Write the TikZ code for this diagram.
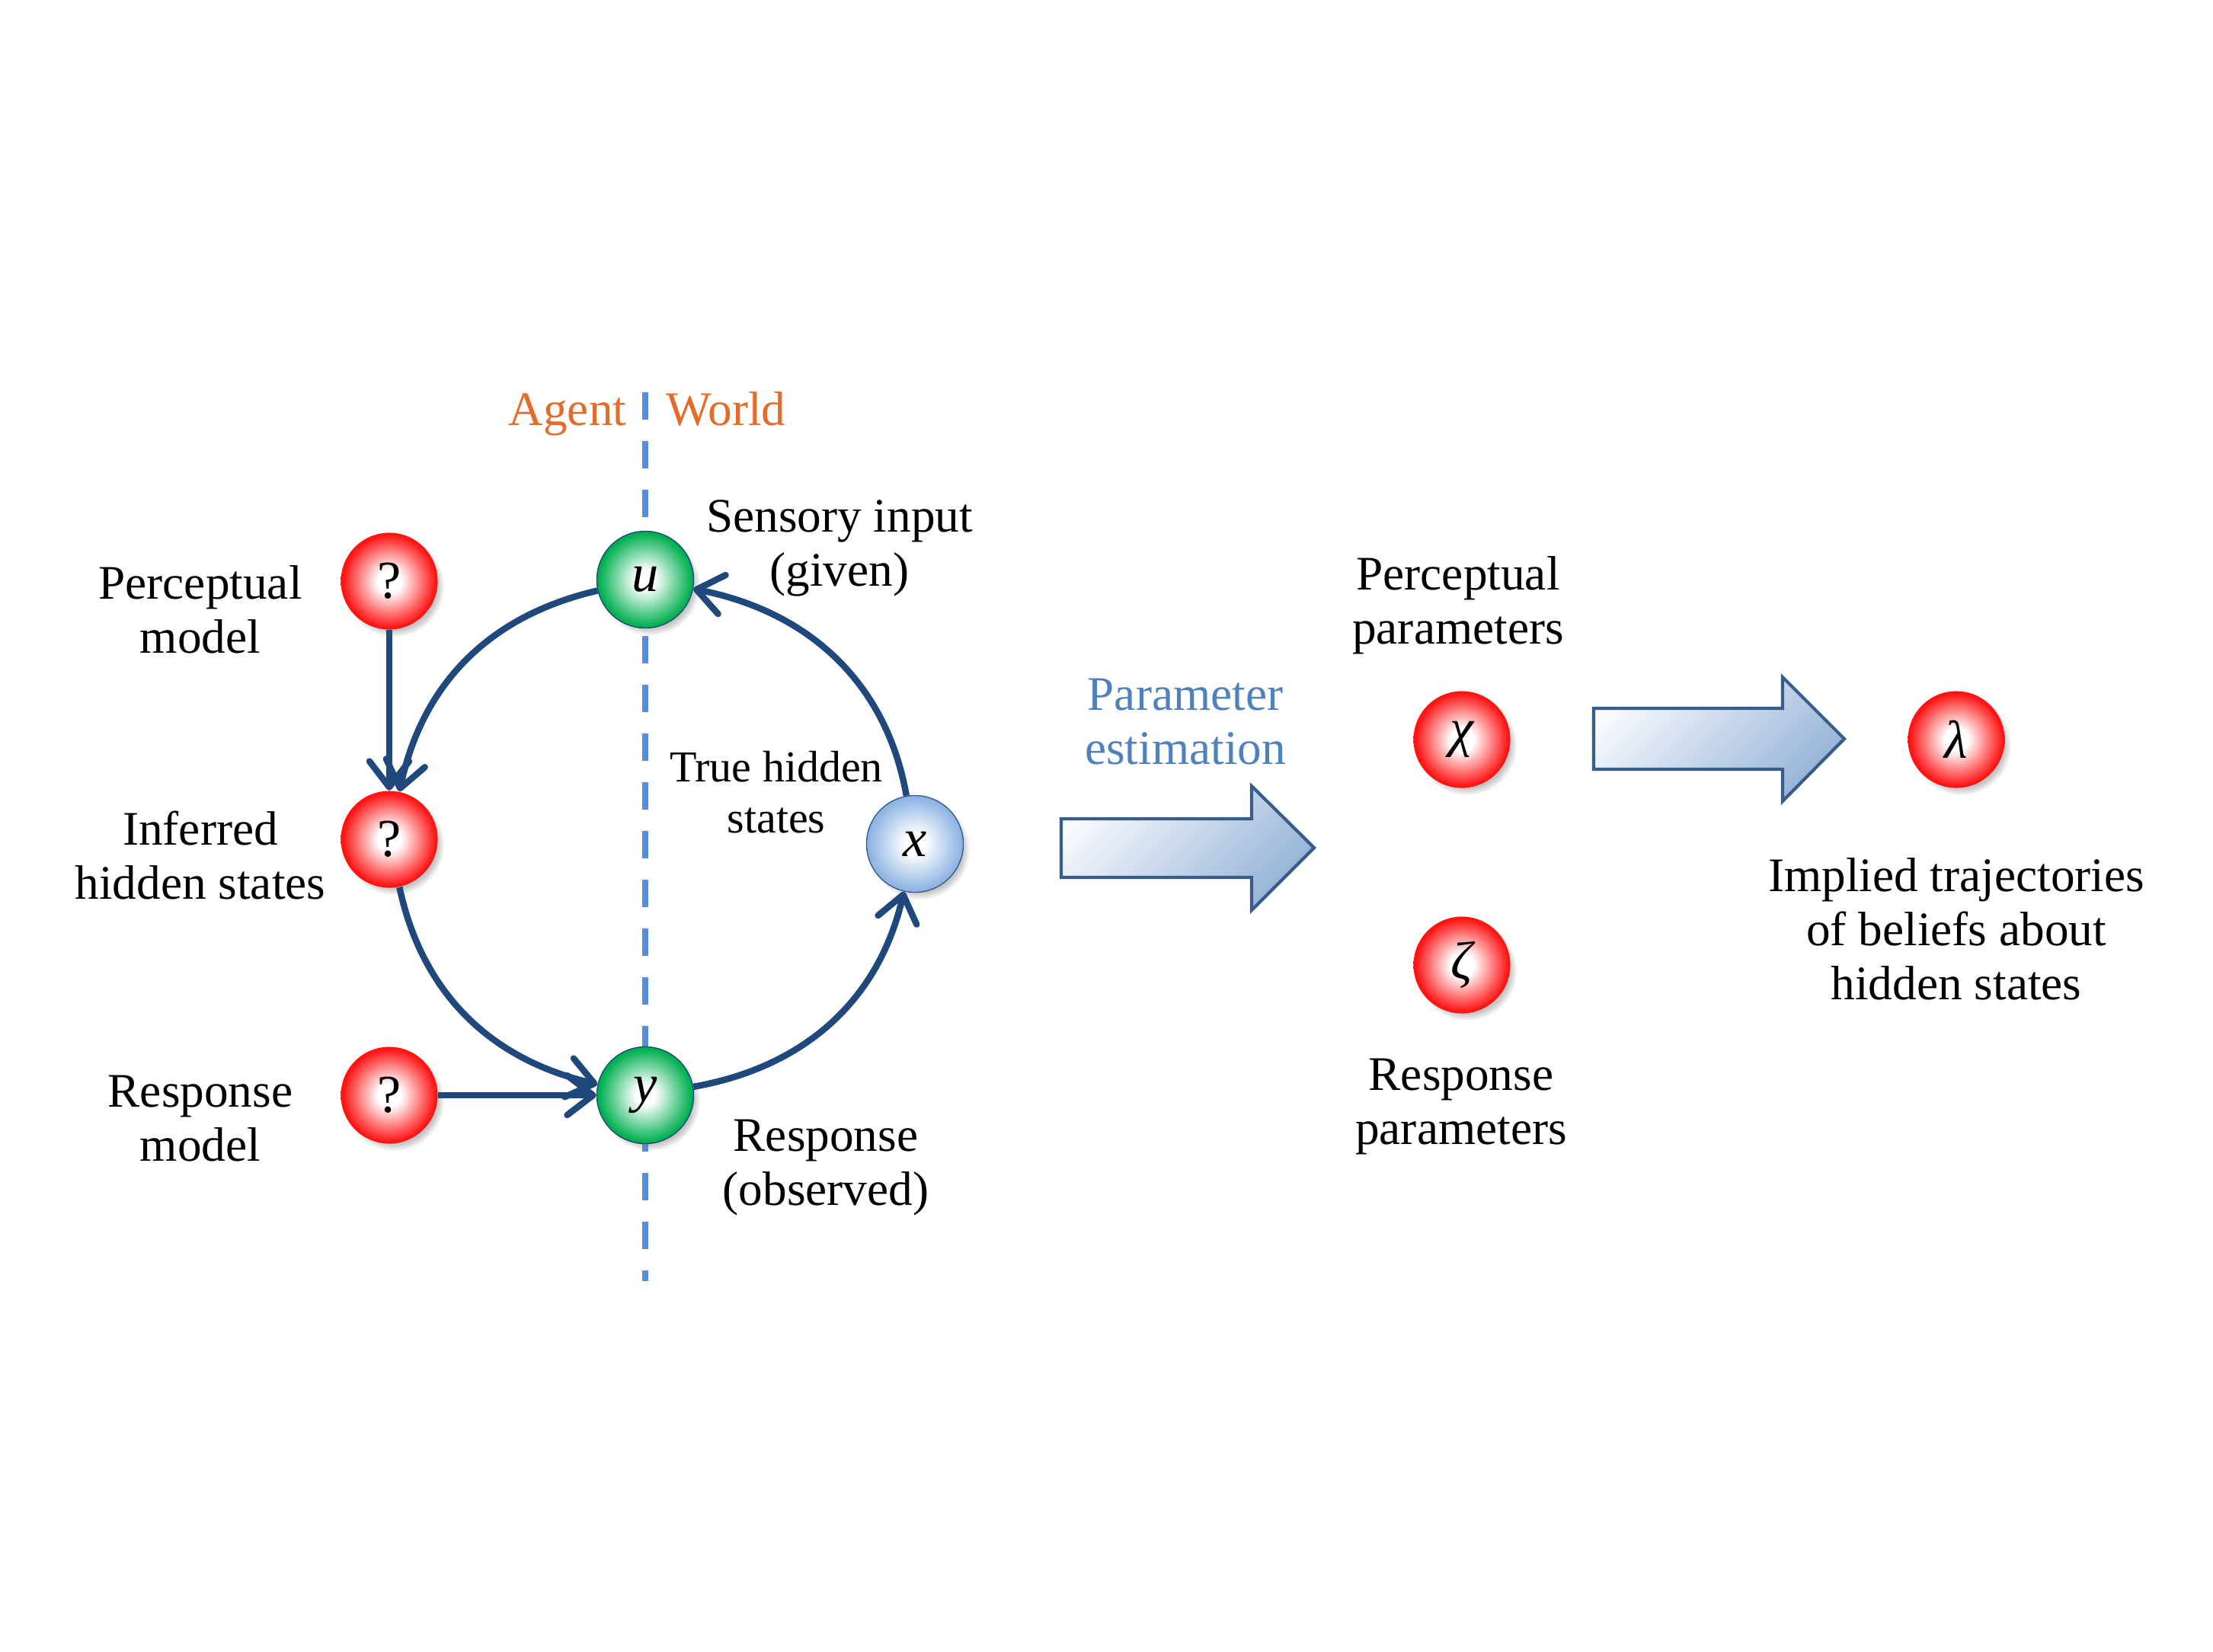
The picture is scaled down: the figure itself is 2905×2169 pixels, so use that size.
\documentclass[tikz,border=0pt]{standalone}
\usepackage{fontspec}
\setmainfont{Liberation Serif}
\usetikzlibrary{arrows.meta,positioning,shadows}

\definecolor{linkblue}{HTML}{1F497D}
\definecolor{splitblue}{HTML}{558ED5}
\definecolor{sideorange}{HTML}{E36C2B}
\definecolor{estblue}{HTML}{4F81BD}
\definecolor{ballred}{HTML}{FF1414}
\definecolor{ballgreen}{HTML}{00B050}
\definecolor{ballblue}{HTML}{8EB4E3}
\definecolor{arrowedge}{HTML}{385D8A}
\definecolor{arrowdark}{HTML}{95B3D7}
\definecolor{arrowlight}{HTML}{F7F9FD}

\pgfdeclareradialshading{redfill}{\pgfpointorigin}{color(0bp)=(white); color(6bp)=(white); color(24bp)=(ballred); color(50bp)=(ballred)}
\pgfdeclareradialshading{greenfill}{\pgfpointorigin}{color(0bp)=(white); color(5bp)=(white); color(24bp)=(ballgreen); color(50bp)=(ballgreen)}
\pgfdeclareradialshading{bluefill}{\pgfpointorigin}{color(0bp)=(white); color(5bp)=(white); color(24bp)=(ballblue); color(50bp)=(ballblue)}

\begin{document}
\begin{tikzpicture}[
		x=0.01cm, y=-0.01cm,
		txt/.style={align=center, font=\fontsize{18}{20.2}\selectfont},
		ball/.style={circle, minimum size=1.27cm, inner sep=0pt, font=\fontsize{20}{22}\selectfont\itshape,
			circular drop shadow={shadow xshift=0.06cm, shadow yshift=-0.07cm, shadow scale=1.04, opacity=0.45}},
		qball/.style={ball, shade, shading=redfill},
		obsball/.style={ball, shade, shading=greenfill, draw=linkblue, thin},
		hidball/.style={ball, shade, shading=bluefill, draw=arrowedge, thin},
		link/.style={draw=linkblue, line width=2.4pt, -{Straight Barb[length=3.4mm, width=5.2mm, round]}},
		split/.style={draw=splitblue, line width=2.5pt, dash pattern=on 0.36cm off 0.28cm},
		side/.style={text=sideorange, inner xsep=0pt, font=\fontsize{18}{20.2}\selectfont},
		bigarrow/.style={draw=arrowedge, line width=1.2pt, top color=arrowlight, bottom color=arrowdark, shading angle=45},
	]
		\useasboundingbox (0,0) rectangle (2905,2169);

		% agent / world split
		\coordinate (splittop) at (847,515);
		\coordinate (splitbot) at (847,1682);
		\draw[split] (splittop) -- (splitbot);
		\node[side, anchor=base east] (agent) at (823,558) {Agent};
		\node[side, anchor=base west] (world) at (874,558) {World};

		% generative model
		\node[qball] (q1) at (511,763) {\upshape ?};
		\node[qball] (q2) at (511,1102) {\upshape ?};
		\node[qball] (q3) at (511,1438) {\upshape ?};
		\node[obsball] (u) at (847,761) {u};
		\node[obsball] (y) at (847,1438) {y};
		\node[hidball] (x) at (1201,1108) {x};

		\node[txt] (pm) at (263,800) {Perceptual\\model};
		\node[txt] (ihs) at (263,1123) {Inferred\\hidden states};
		\node[txt] (rm) at (263,1469) {Response\\model};
		\node[txt] (sens) at (1102,720) {Sensory input\\(given)};
		\node[txt, font=\fontsize{16.5}{18.9}\selectfont] (ths) at (1019,1040) {True hidden\\states};
		\node[txt] (resp) at (1084,1533) {Response\\(observed)};

		\draw[link] (q1) -- (q2);
		\draw[link] (u) to[out=193, in=78] (q2);
		\draw[link] (q2) to[out=-78, in=167] (y);
		\draw[link] (y) to[out=10, in=-103] (x);
		\draw[link] (x) to[out=100, in=-11] (u);
		\draw[link] (q3) -- (y);

		% estimation
		\draw[bigarrow] (1393,1075) -- (1643,1075) -- (1643,1032) -- (1725,1113) -- (1643,1195) -- (1643,1152) -- (1393,1152) -- cycle;
		\node[txt, text=estblue] (est) at (1556,948) {Parameter\\estimation};

		\node[qball] (chi) at (1919,971) {χ};
		\node[qball] (zeta) at (1919,1267) {ζ};
		\node[txt] (pp) at (1914,795) {Perceptual\\parameters};
		\node[txt] (rp) at (1918,1453) {Response\\parameters};

		\draw[bigarrow] (2092,930) -- (2340,930) -- (2340,889) -- (2421,970) -- (2340,1052) -- (2340,1010) -- (2092,1010) -- cycle;

		\node[qball] (lam) at (2568,971) {λ};
		\node[txt] (traj) at (2568,1220) {Implied trajectories\\of beliefs about\\hidden states};
	\end{tikzpicture}
\end{document}
